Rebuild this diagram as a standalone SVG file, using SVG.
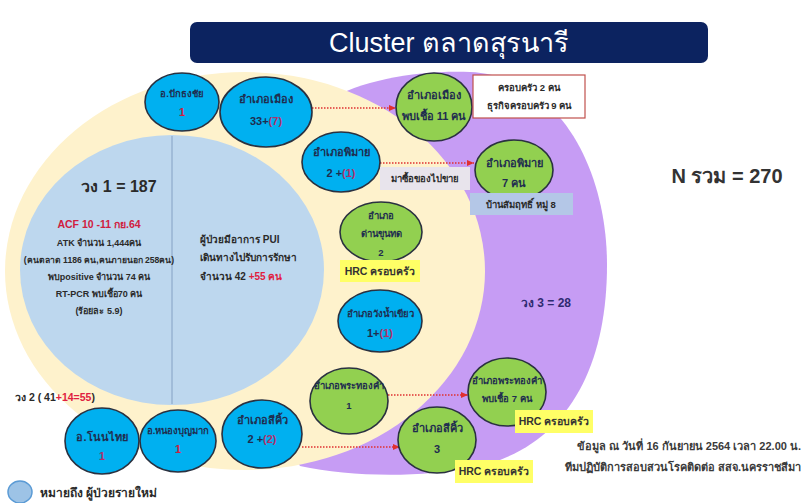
<svg xmlns="http://www.w3.org/2000/svg" width="803" height="503" viewBox="0 0 803 503">
<defs>
<style>
text{font-family:"Liberation Sans","Noto Sans","DejaVu Sans",sans-serif;}
.t{font-size:11px;font-weight:bold;fill:#1f2d4f;text-anchor:middle;}
.s{font-size:9.5px;}
.red{fill:#d02040;}
.pr{fill:#b0306a;}
.blue{fill:#00b0f0;stroke:#2a3140;stroke-width:1.6;}
.green{fill:#92d050;stroke:#2a3140;stroke-width:1.6;}
.hrc{fill:#ffff66;}
.ht{font-size:10.5px;font-weight:bold;fill:#333333;text-anchor:middle;}
.ct{font-size:9px;font-weight:bold;fill:#2a2a2a;text-anchor:middle;}
.pt{font-size:10px;font-weight:bold;fill:#2a2a2a;}
.conn{stroke:#e03030;stroke-width:1.4;stroke-dasharray:1.5 1.5;fill:none;}
</style>
<marker id="ah" markerWidth="8" markerHeight="8" refX="7" refY="4" orient="auto" markerUnits="userSpaceOnUse">
<path d="M0,1 L7,4 L0,7 Z" fill="#e03030"/>
</marker>
</defs>
<rect width="803" height="503" fill="#ffffff"/>

<g id="title">
<rect x="190" y="22" width="518" height="41" rx="7" fill="#0c2360"/>
<text x="449" y="52" font-size="27" fill="#ffffff" text-anchor="middle">Cluster ตลาดสุรนารี</text>
</g>

<g id="ring3">
<path d="M330,100 C360,80 420,70 470,72 C560,76 607,170 607,265 C607,370 565,448 475,467 C420,478 350,477 300,466 L200,300 Z" fill="#c69cf4"/>
</g>
<g id="ring2">
<ellipse cx="245" cy="271" rx="240" ry="199" fill="#fef2cc"/>
</g>
<g id="ring1">
<ellipse cx="172" cy="270" rx="152" ry="135" fill="#bdd7ee"/>
<line x1="172" y1="136" x2="172" y2="404" stroke="#8eaacb" stroke-width="1.2"/>
<text x="119" y="192" font-size="16" font-weight="bold" fill="#2a2a2a" text-anchor="middle">วง 1 = 187</text>
<text x="99" y="228" class="ct" font-size="10.5" style="fill:#d02040;font-size:10.5px">ACF 10 -11 กย.64</text>
<text x="99" y="246" class="ct">ATK จำนวน 1,444คน</text>
<text x="99" y="263" class="ct" style="font-size:8.6px">(คนตลาด 1186 คน,คนภายนอก 258คน)</text>
<text x="99" y="280" class="ct">พบpositive จำนวน 74 คน</text>
<text x="99" y="297" class="ct">RT-PCR พบเชื้อ70 คน</text>
<text x="99" y="314" class="ct">(ร้อยละ 5.9)</text>
<text x="200" y="243" class="pt">ผู้ป่วยมีอาการ PUI</text>
<text x="200" y="261" class="pt">เดินทางไปรับการรักษา</text>
<text x="200" y="280" class="pt">จำนวน 42 <tspan fill="#e02040">+55 คน</tspan></text>
</g>

<g id="labels">
<text x="15" y="401" font-size="10.5" font-weight="bold" fill="#2a2a2a">วง 2 ( 41<tspan fill="#e02040">+14=55</tspan>)</text>
<text x="546" y="307" font-size="12" font-weight="bold" fill="#2e2a70" text-anchor="middle">วง 3 = 28</text>
<text x="727" y="183" font-size="20" font-weight="bold" fill="#333333" text-anchor="middle">N รวม = 270</text>
<text x="801" y="450" font-size="11" font-weight="bold" fill="#3a3a3a" text-anchor="end">ข้อมูล ณ วันที่ 16 กันยายน 2564 เวลา 22.00 น.</text>
<text x="801" y="471" font-size="11" font-weight="bold" fill="#3a3a3a" text-anchor="end">ทีมปฏิบัติการสอบสวนโรคติดต่อ สสจ.นครราชสีมา</text>
</g>

<g id="legend">
<ellipse cx="20" cy="492" rx="12" ry="11" fill="#9dc3e6" stroke="#5b9bd5" stroke-width="1.5"/>
<text x="40" y="497" font-size="12" font-weight="bold" fill="#2a2a2a">หมายถึง ผู้ป่วยรายใหม่</text>
</g>

<g id="connectors">
<line class="conn" x1="312" y1="108" x2="396" y2="108" marker-end="url(#ah)"/>
<line class="conn" x1="380" y1="163" x2="474" y2="163" marker-end="url(#ah)"/>
<line class="conn" x1="388" y1="395" x2="468" y2="395" marker-end="url(#ah)"/>
<line class="conn" x1="302" y1="447" x2="400" y2="447" marker-end="url(#ah)"/>
</g>

<g id="n-pakthongchai">
<ellipse class="blue" cx="182" cy="102" rx="37" ry="29"/>
<text class="t s" x="182" y="97">อ.ปักธงชัย</text>
<text class="t red" x="182" y="116">1</text>
</g>
<g id="n-mueang">
<ellipse class="blue" cx="266" cy="112" rx="46" ry="35"/>
<text class="t" x="266" y="103">อำเภอเมือง</text>
<text class="t" x="266" y="125">33+<tspan class="pr">(7)</tspan></text>
</g>
<g id="n-phimai">
<ellipse class="blue" cx="341" cy="162" rx="39" ry="30"/>
<text class="t" x="341" y="156">อำเภอพิมาย</text>
<text class="t" x="341" y="177">2 +<tspan class="pr">(1)</tspan></text>
</g>
<g id="n-dankhunthot">
<ellipse class="green" cx="381" cy="232" rx="41" ry="30"/>
<text class="t s" x="381" y="219">อำเภอ</text>
<text class="t s" x="381" y="237">ด่านขุนทด</text>
<text class="t s" x="381" y="256">2</text>
<rect class="hrc" x="340" y="260" width="80" height="22"/>
<text class="ht" x="380" y="275">HRC ครอบครัว</text>
</g>
<g id="n-wangnamkhiao">
<ellipse class="blue" cx="380" cy="321" rx="42" ry="31"/>
<text class="t s" x="380" y="317">อำเภอวังน้ำเขียว</text>
<text class="t" x="380" y="337">1+<tspan class="pr">(1)</tspan></text>
</g>
<g id="n-phrathongkham">
<ellipse class="green" cx="349" cy="401" rx="39" ry="33"/>
<text class="t s" x="349" y="389">อำเภอพระทองคำ</text>
<text class="t s" x="349" y="409">1</text>
</g>
<g id="n-sikhio">
<ellipse class="blue" cx="262" cy="434" rx="40" ry="34"/>
<text class="t" x="262" y="424">อำเภอสีคิ้ว</text>
<text class="t" x="262" y="443">2 +<tspan class="pr">(2)</tspan></text>
</g>
<g id="n-nongbunmak">
<ellipse class="blue" cx="178" cy="441" rx="38" ry="31"/>
<text class="t s" x="178" y="434">อ.หนองบุญมาก</text>
<text class="t red" x="178" y="453">1</text>
</g>
<g id="n-nonthai">
<ellipse class="blue" cx="102" cy="441" rx="37" ry="33"/>
<text class="t" x="102" y="441">อ.โนนไทย</text>
<text class="t pr" x="102" y="460">1</text>
</g>

<g id="g-mueang">
<ellipse class="green" cx="434" cy="107" rx="38" ry="34"/>
<text class="t" x="434" y="99">อำเภอเมือง</text>
<text class="t" x="434" y="120">พบเชื้อ 11 คน</text>
</g>
<g id="box-family">
<rect x="473" y="75" width="112" height="43" fill="#ffffff" stroke="#c0504d" stroke-width="1.2"/>
<text class="ct" x="529" y="91" style="font-size:9.5px">ครอบครัว 2 คน</text>
<text class="ct" x="529" y="109" style="font-size:9.5px">ธุรกิจครอบครัว 9 คน</text>
</g>
<g id="label-buy">
<rect x="380" y="167" width="90" height="23" fill="#e8e4ec"/>
<text class="ct" x="425" y="182" style="font-size:9.5px">มาซื้อของไปขาย</text>
</g>
<g id="g-phimai">
<ellipse class="green" cx="514" cy="170" rx="39" ry="30"/>
<text class="t" x="514" y="167">อำเภอพิมาย</text>
<text class="t" x="514" y="187">7 คน</text>
<rect x="470" y="193" width="103" height="22" fill="#b4c7e7"/>
<text class="ct" x="521" y="208" style="font-size:9.5px">บ้านสัมฤทธิ์ หมู่ 8</text>
</g>
<g id="g-phrathongkham">
<ellipse class="green" cx="507" cy="392" rx="39" ry="34"/>
<text class="t s" x="507" y="384">อำเภอพระทองคำ</text>
<text class="t s" x="507" y="402">พบเชื้อ 7 คน</text>
<rect class="hrc" x="515" y="410" width="78" height="23"/>
<text class="ht" x="554" y="425">HRC ครอบครัว</text>
</g>
<g id="g-sikhio">
<ellipse class="green" cx="437" cy="440" rx="39" ry="33"/>
<text class="t" x="437" y="432">อำเภอสีคิ้ว</text>
<text class="t" x="437" y="453">3</text>
<rect class="hrc" x="455" y="460" width="78" height="23"/>
<text class="ht" x="494" y="475">HRC ครอบครัว</text>
</g>
</svg>
